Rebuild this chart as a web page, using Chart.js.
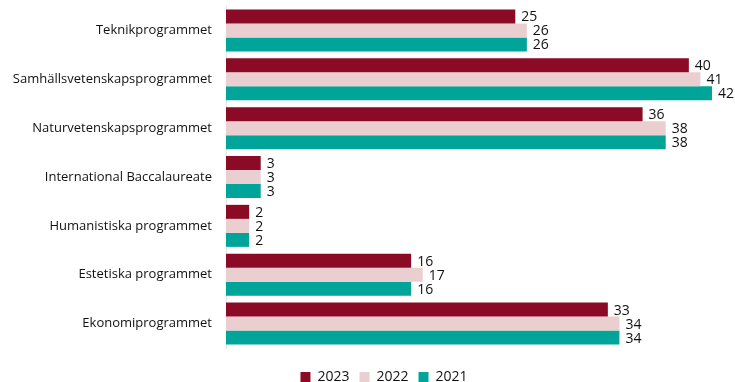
<!DOCTYPE html>
<html>
<head>
<meta charset="utf-8">
<script src="https://cdn.jsdelivr.net/npm/chart.js@4/dist/chart.umd.min.js"></script>
<style>
html,body{margin:0;padding:0;background:#fff;}
#wrap{width:735px;height:382px;}
</style>
</head>
<body>
<div id="wrap"><canvas id="c" width="735" height="382"></canvas></div>
<script>
const categories = ["Teknikprogrammet","Samhällsvetenskapsprogrammet","Naturvetenskapsprogrammet","International Baccalaureate","Humanistiska programmet","Estetiska programmet","Ekonomiprogrammet"];
const seriesNames = ["2023","2022","2021"];
const values2023 = [25,40,36,3,2,16,33];
const values2022 = [26,41,38,3,2,17,34];
const values2021 = [26,42,38,3,2,16,34];
const colors = ["#8B0A25","#EBCFD0","#00A499"];

const FONT = "'Open Sans', sans-serif";

const labelPlugin = {
  id: 'barLabels',
  afterLayout(chart){
    // shift legend to match reference placement
    if (chart.legend) {
      chart.legend.left += 56;
      chart.legend.top += 12;
      chart.legend.bottom += 12;
    }
  },
  afterDatasetsDraw(chart){
    const ctx = chart.ctx;
    ctx.save();
    ctx.font = "14px " + FONT;
    ctx.fillStyle = "#111";
    ctx.textBaseline = "middle";
    ctx.textAlign = "left";
    chart.data.datasets.forEach((ds, i) => {
      const meta = chart.getDatasetMeta(i);
      meta.data.forEach((el, j) => {
        ctx.fillText(String(ds.data[j]), el.x + 6, el.y + 1);
      });
    });
    ctx.restore();
  }
};

new Chart(document.getElementById('c'), {
  type: 'bar',
  data: {
    labels: categories,
    datasets: [
      {label: seriesNames[0], data: values2023, backgroundColor: colors[0]},
      {label: seriesNames[1], data: values2022, backgroundColor: colors[1]},
      {label: seriesNames[2], data: values2021, backgroundColor: colors[2]}
    ]
  },
  options: {
    indexAxis: 'y',
    responsive: false,
    animation: false,
    maintainAspectRatio: false,
    layout: {padding: {top: 6, right: 23, bottom: 0, left: 0}},
    datasets: {bar: {categoryPercentage: 0.86, barPercentage: 1.0}},
    scales: {
      x: {display: false, min: 0, max: 42},
      y: {
        grid: {display: false, drawTicks: false},
        border: {display: true, color: "#e4e4e4", width: 1},
        ticks: {color: "#111", font: {family: FONT, size: 13}, padding: 14},
        afterFit(scale){ scale.width = 226; scale.paddingTop = 0; scale.paddingBottom = 0; }
      }
    },
    plugins: {
      legend: {
        position: 'bottom',
        labels: {boxWidth: 10, boxHeight: 10, color: "#111", font: {family: FONT, size: 14}, padding: 10}
      },
      tooltip: {enabled: false}
    }
  },
  plugins: [labelPlugin]
});
</script>
</body>
</html>
